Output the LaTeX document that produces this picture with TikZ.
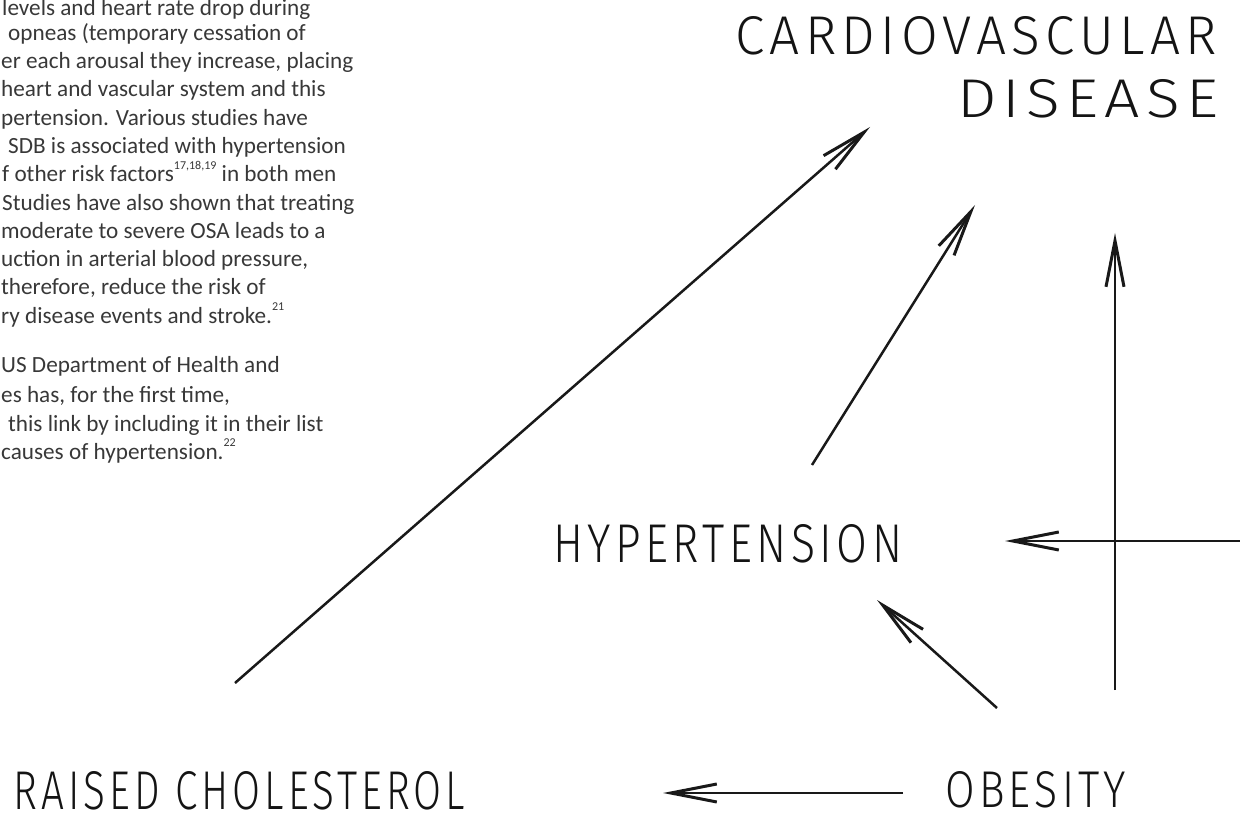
\documentclass[tikz,border=0pt]{standalone}
\usepackage{fontspec}
\setmainfont{Carlito}
\IfFontExistsTF{Fira Sans Light}
    {\newfontfamily\handfont{Fira Sans Light}[LetterSpace=10]}
    {\newfontfamily\handfont{Fira Sans}[LetterSpace=10]}
\usetikzlibrary{arrows.meta}
\newcommand{\refsup}[1]{\raisebox{0.55em}{\fontsize{12}{12}\selectfont #1}}
\newcommand{\handword}[3]{\resizebox{#1pt}{#2pt}{\handfont #3}}

\begin{document}
\begin{tikzpicture}[
        x=1pt, y=-1pt,
        para/.style={anchor=base west, inner sep=0pt, text=black!78, font=\fontsize{23.2}{28}\selectfont},
        scrawl/.style={anchor=south west, inner sep=0pt, text=black!92},
        link/.style={-{Straight Barb[length=46pt, width=18pt, line width=3pt]}, line width=2.5pt, draw=black!90}
    ]
        \clip (0,0) rectangle (1240,818);

        % text column, cut at the left edge
        \foreach \txt/\lx/\by [count=\i] in {
            {levels and heart rate drop during}/2/16,
            {opneas (temporary cessation of}/8/40.3,
            {er each arousal they increase, placing}/1/68.6,
            {heart and vascular system and this}/1/96.9,
            {pertension. Various studies have}/1/125.2,
            {SDB is associated with hypertension}/8/153.5,
            {f other risk factors\refsup{17,18,19} in both men}/2/181.8,
            {Studies have also shown that treating}/2/210.1,
            {moderate to severe OSA leads to a}/1/238.4,
            {uction in arterial blood pressure,}/1/266.7,
            {therefore, reduce the risk of}/1/295,
            {ry disease events and stroke.\refsup{21}}/1/323.3,
            {US Department of Health and}/1/373,
            {es has, for the first time,}/1/402,
            {this link by including it in their list}/8/431,
            {causes of hypertension.\refsup{22}}/1/459}
            \node[para] (line\i) at (\lx,\by) {\txt};

        \node[scrawl] (cardio) at (735,55) {\handword{482}{38}{CARDIOVASCULAR}};
        \node[scrawl] (disease) at (957,118) {\handword{261}{38}{DISEASE}};
        \node[scrawl] (hyper) at (553,563) {\handword{349}{38}{HYPERTENSION}};
        \node[scrawl] (chol) at (13,810) {\handword{452}{38}{RAISED CHOLESTEROL}};
        \node[scrawl] (obese) at (945,808) {\handword{181}{36}{OBESITY}};

        \coordinate (cholout) at (235,683);
        \coordinate (cardioin) at (870,127);
        \coordinate (hyperout) at (812,465);
        \coordinate (diseasein) at (975,205);
        \coordinate (obeseout) at (997,708);
        \coordinate (hyperin) at (877,600);
        \coordinate (obeseup) at (1115,690);
        \coordinate (diseaseup) at (1115,233);
        \coordinate (offright) at (1250,541);
        \coordinate (sidein) at (1005,541);
        \coordinate (obeseleft) at (903,793);
        \coordinate (cholin) at (663,793);

        \draw[link] (cholout) -- (cardioin);
        \draw[link] (hyperout) -- (diseasein);
        \draw[link] (obeseout) -- (hyperin);
        \draw[link] (obeseup) -- (diseaseup);
        \draw[link] (offright) -- (sidein);
        \draw[link] (obeseleft) -- (cholin);
    \end{tikzpicture}
\end{document}
